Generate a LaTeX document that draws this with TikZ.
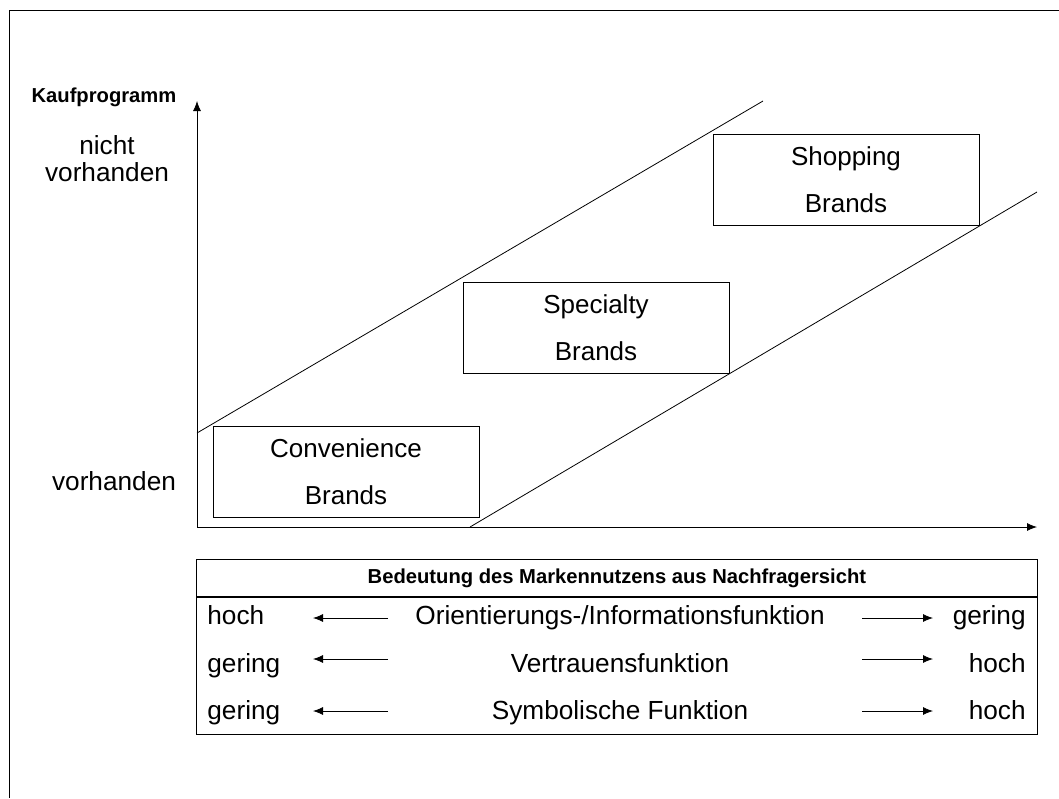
\documentclass[tikz,border=0pt]{standalone}
\usepackage{fontspec}
\setmainfont{Liberation Sans}
\usetikzlibrary{arrows.meta,positioning}

\begin{document}
\begin{tikzpicture}[x=1pt, y=-1pt, line width=0.8pt,
        brand/.style = {draw, minimum width=266pt, minimum height=91pt, inner sep=0pt, align=center, font=\fontsize{26}{47}\selectfont},
        lbl/.style = {inner sep=0pt, font=\fontsize{26.2}{27}\selectfont},
        bold/.style = {inner sep=0pt, font=\bfseries\fontsize{20.2}{24}\selectfont},
        arr/.style = {-{Latex[length=10pt,width=8pt]}}]
        \useasboundingbox (0,0) rectangle (1059,798);
        \draw (1059,10) -- (9,10) -- (9,798);

        \coordinate (origin) at (197,527);
        \coordinate (ytip) at (197,101);
        \coordinate (xtip) at (1037,527);
        \coordinate (up1) at (197,433);
        \coordinate (up2) at (763,101);
        \coordinate (lo1) at (470,527);
        \coordinate (lo2) at (1037,192);

        \node[bold, anchor=base] (kauf) at (104,102) {Kaufprogramm};
        \node[lbl, align=center] (nicht) at (107,159) {nicht\\vorhanden};
        \node[lbl, anchor=base] (vorh) at (114,490) {vorhanden};

        \node[brand] (conv) at (346,472) {Convenience\\Brands};
        \node[brand] (spec) at (596,327.5) {Specialty\\Brands};
        \node[brand] (shop) at (846,180) {Shopping\\Brands};

        \draw[arr] (origin) -- (ytip);
        \draw[arr] (origin) -- (xtip);
        \draw (up1) -- (up2);
        \draw (lo1) -- (lo2);

        \node[draw, bold, minimum width=841pt, minimum height=37pt, anchor=north west] (head) at (196,559) {Bedeutung des Markennutzens aus Nachfragersicht};
        \node[draw, minimum width=841pt, minimum height=137pt, anchor=north] (body) at (head.south) {};

        \node[lbl, anchor=base west] (l1) at (207,624) {hoch};
        \node[lbl, anchor=base] (f1) at (620,624) {Orientierungs-/Informationsfunktion};
        \node[lbl, anchor=base east] (r1) at (1026,624) {gering};
        \node[lbl, anchor=base west] (l2) at (207,672) {gering};
        \node[lbl, anchor=base] (f2) at (620,672) {Vertrauensfunktion};
        \node[lbl, anchor=base east] (r2) at (1026,672) {hoch};
        \node[lbl, anchor=base west] (l3) at (207,719) {gering};
        \node[lbl, anchor=base] (f3) at (620,719) {Symbolische Funktion};
        \node[lbl, anchor=base east] (r3) at (1026,719) {hoch};

        \coordinate (la1) at (388,618); \coordinate (lb1) at (313,618);
        \coordinate (ra1) at (862,618); \coordinate (rb1) at (933,618);
        \coordinate (la2) at (388,659); \coordinate (lb2) at (313,659);
        \coordinate (ra2) at (862,659); \coordinate (rb2) at (933,659);
        \coordinate (la3) at (388,711); \coordinate (lb3) at (313,711);
        \coordinate (ra3) at (862,711); \coordinate (rb3) at (933,711);

        \draw[arr] (la1) -- (lb1);
        \draw[arr] (ra1) -- (rb1);
        \draw[arr] (la2) -- (lb2);
        \draw[arr] (ra2) -- (rb2);
        \draw[arr] (la3) -- (lb3);
        \draw[arr] (ra3) -- (rb3);
    \end{tikzpicture}
\end{document}
